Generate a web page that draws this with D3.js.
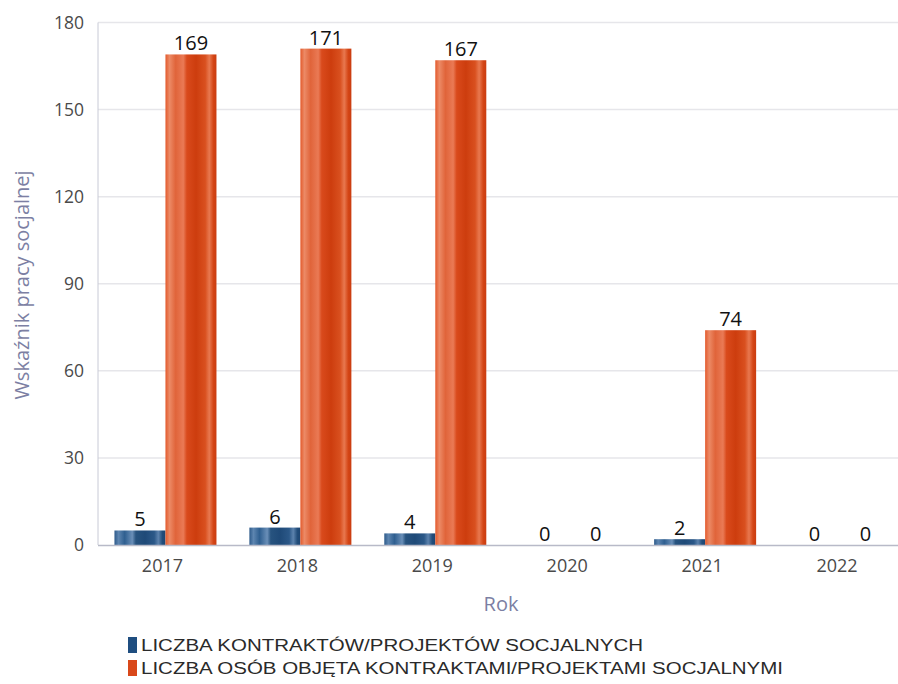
<!DOCTYPE html>
<html><head><meta charset="utf-8">
<script src="https://cdn.jsdelivr.net/npm/d3@7"></script>
<style>body{margin:0;background:#fff}svg{display:block}</style>
</head><body><svg id="c" width="898" height="684"></svg>
<script>
const years = ["2017","2018","2019","2020","2021","2022"];
const kontrakty = [5, 6, 4, 0, 2, 0];
const osoby = [169, 171, 167, 0, 74, 0];
const seriesNames = ["LICZBA KONTRAKTÓW/PROJEKTÓW SOCJALNYCH", "LICZBA OSÓB OBJĘTA KONTRAKTAMI/PROJEKTAMI SOCJALNYMI"];
const yTicks = [0, 30, 60, 90, 120, 150, 180];

(function(){
const svg = d3.select("#c");
const W = 898;
const mLeft = 98, mTop = 22.5, mBottom = 545, mRight = 907.5;
const x = d3.scaleBand().domain(years).range([mLeft, mRight]).paddingInner(0).paddingOuter(0);
const y = d3.scaleLinear().domain([0, 180]).range([mBottom, mTop]);
const bw = 51;

const defs = svg.append("defs");
function grad(id, stops){
  const g = defs.append("linearGradient").attr("id", id).attr("x1","0").attr("x2","1").attr("y1","0").attr("y2","0");
  stops.forEach(s => g.append("stop").attr("offset", s[0]).attr("stop-color", s[1]));
}
grad("gO", [[0,"#e35a2c"],[0.08,"#ec8a66"],[0.2,"#e0643a"],[0.35,"#ea7a55"],[0.42,"#d94a1c"],[0.6,"#cd3d0e"],[0.78,"#d9501f"],[0.86,"#e8784f"],[0.94,"#d44515"],[1,"#c93c10"]]);
grad("gB", [[0,"#2d5a8a"],[0.08,"#5d85b0"],[0.2,"#2f5f90"],[0.35,"#6a8fb8"],[0.42,"#27537f"],[0.6,"#1f4a78"],[0.78,"#2b5888"],[0.86,"#5c82ad"],[0.94,"#224d7a"],[1,"#1e4673"]]);

svg.append("g").selectAll("line").data(yTicks.filter(d => d > 0)).join("line")
  .attr("x1", mLeft).attr("x2", W).attr("y1", d => y(d)).attr("y2", d => y(d))
  .attr("stroke", "#e6e6ea").attr("stroke-width", 1.5);

svg.append("line").attr("x1", mLeft).attr("x2", mLeft).attr("y1", y(180)).attr("y2", mBottom)
  .attr("stroke", "#c8cad6").attr("stroke-width", 1);

svg.append("g").selectAll("text").data(yTicks).join("text")
  .attr("x", 84).attr("y", d => y(d)).attr("dy", "0.35em").attr("text-anchor", "end")
  .attr("font-family", "Open Sans, sans-serif").attr("font-size", 17.5).attr("fill", "#4a4a4a")
  .text(d => d);

years.forEach((yr, i) => {
  const cx = x(yr) + x.bandwidth() / 2;
  const vals = [kontrakty[i], osoby[i]];
  vals.forEach((v, j) => {
    const bx = j === 0 ? cx - bw : cx;
    if (v > 0) {
      svg.append("rect").attr("x", bx).attr("width", bw).attr("y", y(v)).attr("height", mBottom - y(v))
        .attr("fill", j === 0 ? "url(#gB)" : "url(#gO)");
    }
    svg.append("text").attr("x", bx + bw / 2).attr("y", y(v) - 4).attr("text-anchor", "middle")
      .attr("font-family", "Open Sans, sans-serif").attr("font-size", 20).attr("fill", "#111")
      .text(v);
  });
});

svg.append("line").attr("x1", mLeft).attr("x2", W).attr("y1", mBottom + 0.5).attr("y2", mBottom + 0.5)
  .attr("stroke", "#b8bac8").attr("stroke-width", 1.5);

svg.append("g").selectAll("text").data(years).join("text")
  .attr("x", d => x(d) + x.bandwidth() / 2 - 3).attr("y", 572).attr("text-anchor", "middle")
  .attr("font-family", "Open Sans, sans-serif").attr("font-size", 18).attr("fill", "#4a4a4a")
  .text(d => d);

svg.append("text").attr("x", 501).attr("y", 611).attr("text-anchor", "middle")
  .attr("font-family", "Open Sans, sans-serif").attr("font-size", 20).attr("fill", "#7c7fa3").text("Rok");
svg.append("text").attr("transform", "translate(29,285) rotate(-90)").attr("text-anchor", "middle")
  .attr("font-family", "Open Sans, sans-serif").attr("font-size", 20).attr("fill", "#7c7fa3").text("Wskaźnik pracy socjalnej");

const leg = svg.append("g");
seriesNames.forEach((n, i) => {
  const ly = 637 + i * 23;
  leg.append("rect").attr("x", 128).attr("y", ly).attr("width", 9).attr("height", 16)
    .attr("fill", i === 0 ? "#1f4e80" : "#d9481a");
  leg.append("text").attr("x", 141).attr("y", ly + 14)
    .attr("font-family", "Liberation Sans, Arial, sans-serif").attr("font-size", 16).attr("fill", "#2a2a2a")
    .attr("textLength", i === 0 ? 502 : 642).attr("lengthAdjust", "spacingAndGlyphs")
    .text(n);
});
})();
</script></body></html>
